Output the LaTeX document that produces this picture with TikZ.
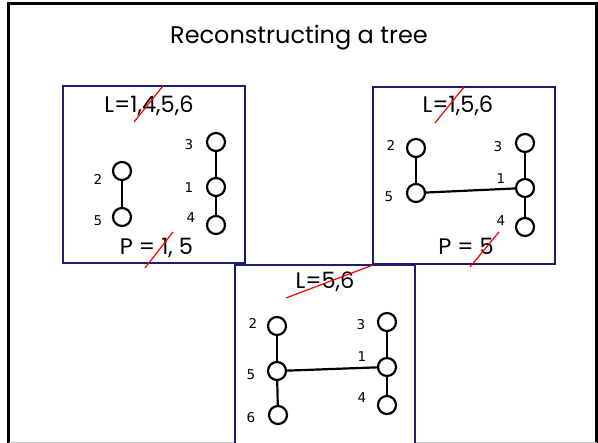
\documentclass[tikz,border=0pt]{standalone}
\usepackage{fontspec}
\setmainfont{Poppins}
\newfontfamily\lblfont{DejaVu Sans}
\definecolor{panelblue}{RGB}{28,28,112}
\tikzset{vertex/.style = {shape = circle, draw, line width = 2.2pt, minimum size = 18pt, inner sep = 0pt}}
\tikzset{edge/.style = {line width = 2.2pt}}
\tikzset{lbl/.style = {font = \lblfont\fontsize{13.5}{15}\selectfont, inner sep = 0pt}}
\tikzset{listtext/.style = {font = \fontsize{22.5}{26}\selectfont, anchor = base, inner sep = 0pt}}
\tikzset{panel/.style = {draw = panelblue, line width = 1.3pt, fill = white}}
\tikzset{strike/.style = {draw = red, line width = 1.2pt}}

\begin{document}
\begin{tikzpicture}[x = 1pt, y = -1pt]
			\useasboundingbox (0, 0) rectangle (598, 443);
			% slide frame
			\draw[line width = 3pt] (8.5, 443) -- (8.5, 3.5) -- (596.5, 3.5) -- (596.5, 443);
			\draw[gray!50, line width = 1pt] (8.5, 442.5) -- (596.5, 442.5);
			\node[font = \fontsize{24}{28}\selectfont] (title) at (299, 38) {Reconstructing a tree};

			% first step
			\draw[panel] (63, 86) rectangle (245, 263);
			\node[listtext] (l1) at (149, 113) {L=1,4,5,6};
			\node[listtext] (p1) at (156.5, 255) {P = 1, 5};
			\node[vertex] (a2) at (122, 171) {};
			\node[vertex] (a5) at (122, 217) {};
			\node[vertex] (a3) at (216, 142) {};
			\node[vertex] (a1) at (216, 187) {};
			\node[vertex] (a4) at (216, 225) {};
			\node[lbl] (la2) at (98, 179) {2};
			\node[lbl] (la5) at (98, 221) {5};
			\node[lbl] (la3) at (189, 145) {3};
			\node[lbl] (la1) at (189, 188) {1};
			\node[lbl] (la4) at (191, 218) {4};
			\draw[edge] (a2) to (a5);
			\draw[edge] (a3) to (a1);
			\draw[edge] (a1) to (a4);
			\draw[strike] (134, 122) -- (163, 86);
			\draw[strike] (145, 268) -- (173, 232);

			% second step
			\draw[panel] (373, 87) rectangle (555, 264);
			\node[listtext] (l2) at (458, 113) {L=1,5,6};
			\node[listtext] (p2) at (466, 255) {P = 5};
			\node[vertex] (b2) at (416, 148) {};
			\node[vertex] (b5) at (416, 193) {};
			\node[vertex] (b3) at (525, 143) {};
			\node[vertex] (b1) at (525, 188) {};
			\node[vertex] (b4) at (525, 227) {};
			\node[lbl] (lb2) at (391, 145) {2};
			\node[lbl] (lb5) at (389, 197) {5};
			\node[lbl] (lb3) at (498, 147) {3};
			\node[lbl] (lb1) at (501, 179) {1};
			\node[lbl] (lb4) at (501, 221) {4};
			\draw[edge] (b2) to (b5);
			\draw[edge] (b5) to (b1);
			\draw[edge] (b3) to (b1);
			\draw[edge] (b1) to (b4);
			\draw[strike] (435, 123) -- (464, 87);
			\draw[strike] (470, 267) -- (499, 232);

			% third step
			\draw[panel] (235, 265) rectangle (415, 450);
			\node[listtext] (l3) at (325, 289) {L=5,6};
			\node[vertex] (c2) at (277, 326) {};
			\node[vertex] (c5) at (277, 371) {};
			\node[vertex] (c6) at (278, 415) {};
			\node[vertex] (c3) at (387, 322) {};
			\node[vertex] (c1) at (387, 367) {};
			\node[vertex] (c4) at (387, 405) {};
			\node[lbl] (lc2) at (253, 323) {2};
			\node[lbl] (lc5) at (251, 375) {5};
			\node[lbl] (lc6) at (251, 418) {6};
			\node[lbl] (lc3) at (361, 325) {3};
			\node[lbl] (lc1) at (362, 357) {1};
			\node[lbl] (lc4) at (362, 398) {4};
			\draw[edge] (c2) to (c5);
			\draw[edge] (c5) to (c6);
			\draw[edge] (c5) to (c1);
			\draw[edge] (c3) to (c1);
			\draw[edge] (c1) to (c4);
			\draw[strike] (286, 298) -- (373, 265);
		\end{tikzpicture}
\end{document}
